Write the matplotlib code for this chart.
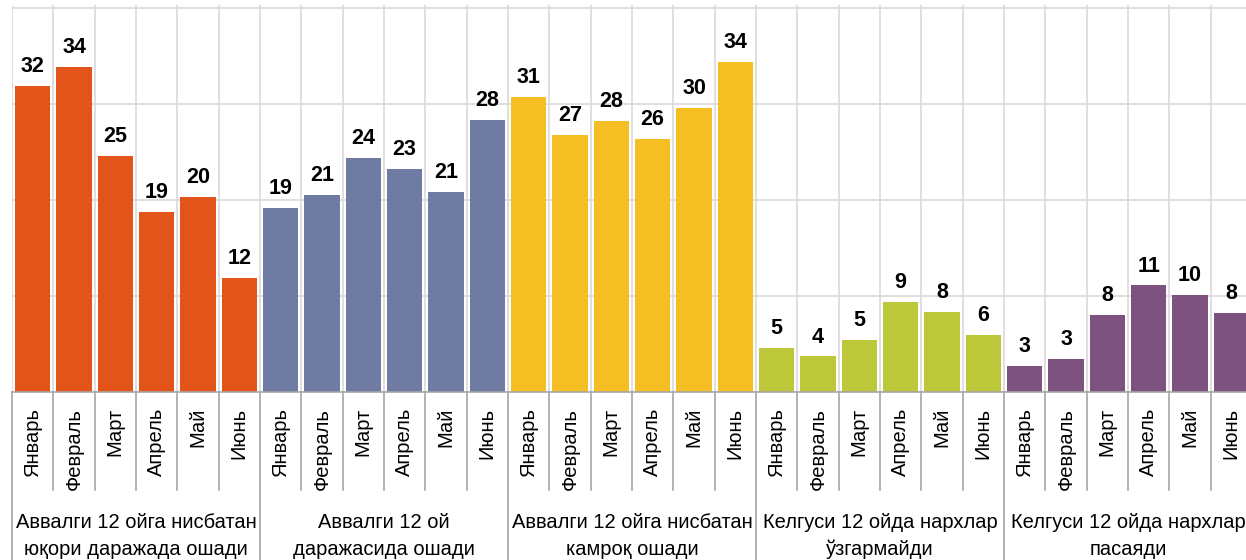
import numpy as np
import matplotlib
matplotlib.use("Agg")
import matplotlib.pyplot as plt

plt.rcParams['font.family'] = ['Liberation Sans', 'DejaVu Sans']

months = ['Январь', 'Февраль', 'Март', 'Апрель', 'Май', 'Июнь']
groups = [
    ['Аввалги 12 ойга нисбатан', 'юқори даражада ошади'],
    ['Аввалги 12 ой', 'даражасида ошади'],
    ['Аввалги 12 ойга нисбатан', 'камроқ ошади'],
    ['Келгуси 12 ойда нархлар', 'ўзгармайди'],
    ['Келгуси 12 ойда нархлар', 'пасаяди'],
]
higher = [31.9, 33.9, 24.6, 18.8, 20.3, 11.9]
same = [19.2, 20.5, 24.4, 23.2, 20.8, 28.3]
lower = [30.7, 26.8, 28.2, 26.4, 29.6, 34.4]
no_change = [4.6, 3.7, 5.4, 9.4, 8.3, 5.9]
decrease = [2.7, 3.4, 8.0, 11.1, 10.1, 8.2]
series = [higher, same, lower, no_change, decrease]
colors = ['#E2541A', '#6F7BA2', '#F5BE23', '#BCC83A', '#7D527F']

fig = plt.figure(figsize=(12.46, 5.6), dpi=100)
ymax = 40.3
ppu = 9.6  # pixels per unit
ax = fig.add_axes([12 / 1246, 1 - 392 / 560, 1240 / 1246, ymax * ppu / 560])

n = len(months)
for g, (vals, col) in enumerate(zip(series, colors)):
    x = np.arange(n) + g * n
    ax.bar(x, vals, width=0.85, color=col, zorder=3)
    for xi, v in zip(x, vals):
        ax.annotate('%d' % int(v + 0.5), (xi, v), xytext=(0, 10), textcoords='offset points',
                    ha='center', va='baseline', fontsize=15.5, fontweight='bold', zorder=4)

total = n * len(series)
ax.set_xlim(-0.5, total - 0.5)
ax.set_ylim(0, ymax)

grid_col = '#D9D9D9'
for b in range(total + 1):
    ax.axvline(b - 0.5, color=grid_col, lw=1.2, zorder=1)
for yv in [10, 20, 30, 40]:
    ax.axhline(yv, color=grid_col, lw=1.2, zorder=1)

for s in ['top', 'left', 'right']:
    ax.spines[s].set_visible(False)
ax.spines['bottom'].set_color('#A6A6A6')
ax.spines['bottom'].set_linewidth(1.2)
ax.spines['bottom'].set_zorder(5)
ax.set_xticks([])
ax.set_yticks([])

h = ymax * ppu
trans = ax.get_xaxis_transform()
sep_col = '#A6A6A6'
for b in range(total + 1):
    y_end = -168 / h if b % n == 0 else -98 / h
    ax.plot([b - 0.5, b - 0.5], [0, y_end], transform=trans, color=sep_col, lw=1.2, clip_on=False)

for i in range(total):
    ax.text(i, -16 / h, months[i % n], transform=trans, rotation=90, ha='center', va='top', fontsize=14.5)

for g, lines in enumerate(groups):
    xc = g * n + (n - 1) / 2
    ax.text(xc, -136 / h, lines[0], transform=trans, ha='center', va='baseline', fontsize=14.5)
    ax.text(xc, -163 / h, lines[1], transform=trans, ha='center', va='baseline', fontsize=14.5)

fig.savefig('out.png', dpi=100)
